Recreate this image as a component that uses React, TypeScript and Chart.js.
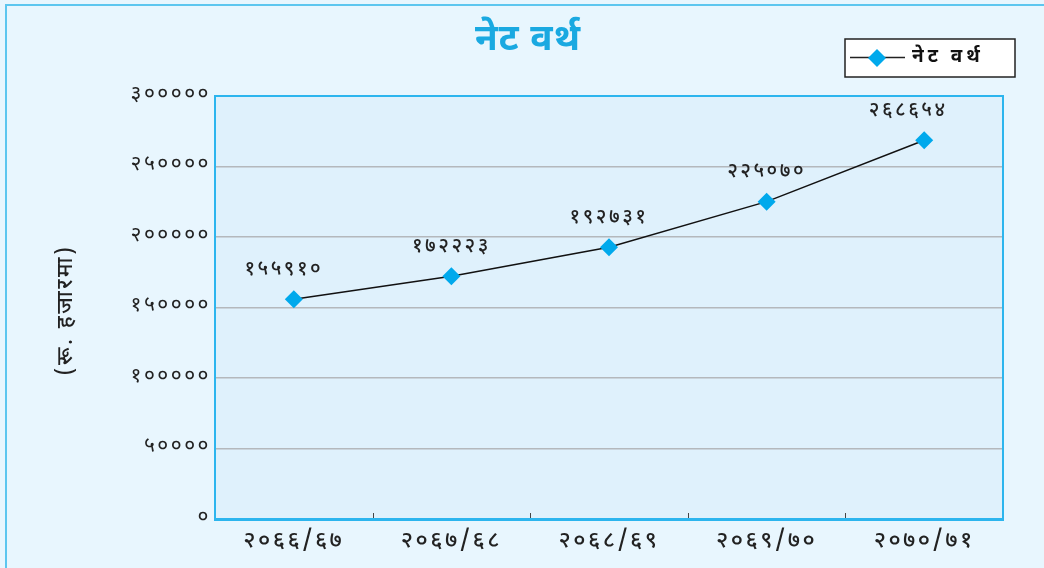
import React, { useEffect, useRef } from "react";
import { Chart, registerables } from "chart.js";

Chart.register(...registerables);

const categories = ["२०६६/६७", "२०६७/६८", "२०६८/६९", "२०६९/७०", "२०७०/७१"];
const netWorth = [155910, 172223, 192731, 225070, 268654];
const seriesName = "नेट वर्थ";
const chartTitle = "नेट वर्थ";
const yAxisTitle = "(रू. हजारमा)";
const yMax = 300000;
const yStep = 50000;

const FONT = "'Noto Sans Devanagari', 'Noto Sans', 'Lohit Devanagari', sans-serif";
const devDigits = ["०", "१", "२", "३", "४", "५", "६", "७", "८", "९"];
const toDev = (n: number) => String(n).replace(/[0-9]/g, (d) => devDigits[+d]);

const MARKER = "#00a9ec";
const BLUE = "#2cb5ee";

const decorPlugin = {
  id: "decor",
  beforeDraw(chart: any) {
    const { ctx, chartArea: a } = chart;
    ctx.save();
    ctx.fillStyle = "#dff1fc";
    ctx.fillRect(a.left, a.top, a.right - a.left, a.bottom - a.top);
    ctx.restore();
    (ctx as any).letterSpacing = "2.5px";
  },
  afterDatasetsDraw(chart: any) {
    const { ctx, chartArea: a } = chart;
    ctx.save();
    // plot border
    ctx.strokeStyle = BLUE;
    ctx.lineWidth = 2;
    ctx.strokeRect(a.left, a.top, a.right - a.left, a.bottom - a.top);
    ctx.lineWidth = 3;
    ctx.beginPath();
    ctx.moveTo(a.left - 1, a.bottom + 0.5);
    ctx.lineTo(a.right + 1, a.bottom + 0.5);
    ctx.stroke();
    // x tick marks (inside)
    const xs = chart.scales.x;
    ctx.strokeStyle = "#444";
    ctx.lineWidth = 1;
    for (let i = 1; i < categories.length; i++) {
      const x = (xs.getPixelForValue(i - 1) + xs.getPixelForValue(i)) / 2;
      ctx.beginPath();
      ctx.moveTo(Math.round(x) + 0.5, a.bottom - 6);
      ctx.lineTo(Math.round(x) + 0.5, a.bottom - 1);
      ctx.stroke();
    }
    // data labels
    const meta = chart.getDatasetMeta(0);
    ctx.fillStyle = "#222";
    ctx.font = `500 20px ${FONT}`;
    (ctx as any).letterSpacing = "2.5px";
    ctx.textAlign = "center";
    ctx.textBaseline = "middle";
    meta.data.forEach((pt: any, i: number) => {
      ctx.fillText(toDev(netWorth[i]), pt.x - (i === 0 ? 10 : i === netWorth.length - 1 ? 16 : 0), pt.y - 28);
    });
    // y title
    ctx.save();
    ctx.translate(68, 310);
    ctx.rotate(-Math.PI / 2);
    ctx.font = `500 22px ${FONT}`;
    ctx.fillStyle = "#222";
    ctx.fillText(yAxisTitle, 0, 0);
    ctx.restore();
    // title
    (ctx as any).letterSpacing = "1px";
    ctx.font = `bold 37px ${FONT}`;
    ctx.fillStyle = "#1aa9e1";
    ctx.fillText(chartTitle, 528, 43);
    // legend
    ctx.fillStyle = "#ffffff";
    ctx.fillRect(845, 39, 170, 38);
    ctx.strokeStyle = "#222";
    ctx.lineWidth = 1.5;
    ctx.strokeRect(845, 39, 170, 38);
    ctx.beginPath();
    ctx.moveTo(850, 57.5);
    ctx.lineTo(905, 57.5);
    ctx.stroke();
    ctx.fillStyle = MARKER;
    ctx.beginPath();
    ctx.moveTo(877, 49);
    ctx.lineTo(886, 58);
    ctx.lineTo(877, 67);
    ctx.lineTo(868, 58);
    ctx.closePath();
    ctx.fill();
    ctx.fillStyle = "#111";
    (ctx as any).letterSpacing = "4px";
    ctx.font = `bold 19px ${FONT}`;
    ctx.textAlign = "left";
    ctx.fillText(seriesName, 912, 58);
    ctx.restore();
  },
};

export default function App() {
  const ref = useRef<HTMLCanvasElement>(null);
  useEffect(() => {
    document.body.style.margin = "0";
    const chart = new Chart(ref.current!, {
      type: "line",
      data: {
        labels: categories,
        datasets: [
          {
            label: seriesName,
            data: netWorth,
            borderColor: "#111",
            borderWidth: 1.5,
            pointStyle: "rectRot",
            pointRadius: 9,
            pointHoverRadius: 9,
            pointBackgroundColor: MARKER,
            pointBorderColor: MARKER,
            pointBorderWidth: 0,
            tension: 0,
          },
        ],
      },
      options: {
        animation: false,
        responsive: false,
        maintainAspectRatio: false,
        layout: { padding: { top: 96, right: 41, left: 0, bottom: 0 } },
        plugins: {
          legend: { display: false },
          title: { display: false },
          tooltip: { enabled: false },
        },
        scales: {
          x: {
            offset: true,
            grid: { display: false, drawTicks: false },
            border: { display: false },
            ticks: {
              color: "#222",
              font: { family: FONT, size: 23, weight: "500" },
              padding: 10,
            },
            afterFit: (s: any) => {
              s.height = 49;
            },
          },
          y: {
            min: 0,
            max: yMax,
            grid: { color: "#b4b8bc", lineWidth: 1.5, drawTicks: false },
            border: { display: false },
            ticks: {
              stepSize: yStep,
              color: "#222",
              padding: 4,
              font: { family: FONT, size: 21 },
              callback: (v: any) => toDev(Number(v)),
            },
            afterFit: (s: any) => {
              s.width = 215;
            },
          },
        },
      },
      plugins: [decorPlugin],
    });
    return () => chart.destroy();
  }, []);
  return (
    <div style={{ position: "fixed", left: 0, top: 0, width: 1044, height: 568, background: "#e8f6fe", overflow: "hidden" }}>
      <div style={{ position: "absolute", left: 5, top: 4, width: 1100, height: 700, borderLeft: "2px solid #5cc6ef", borderTop: "2px solid #5cc6ef" }} />
      <canvas ref={ref} width={1044} height={568} style={{ position: "absolute", left: 0, top: 0 }} />
    </div>
  );
}
